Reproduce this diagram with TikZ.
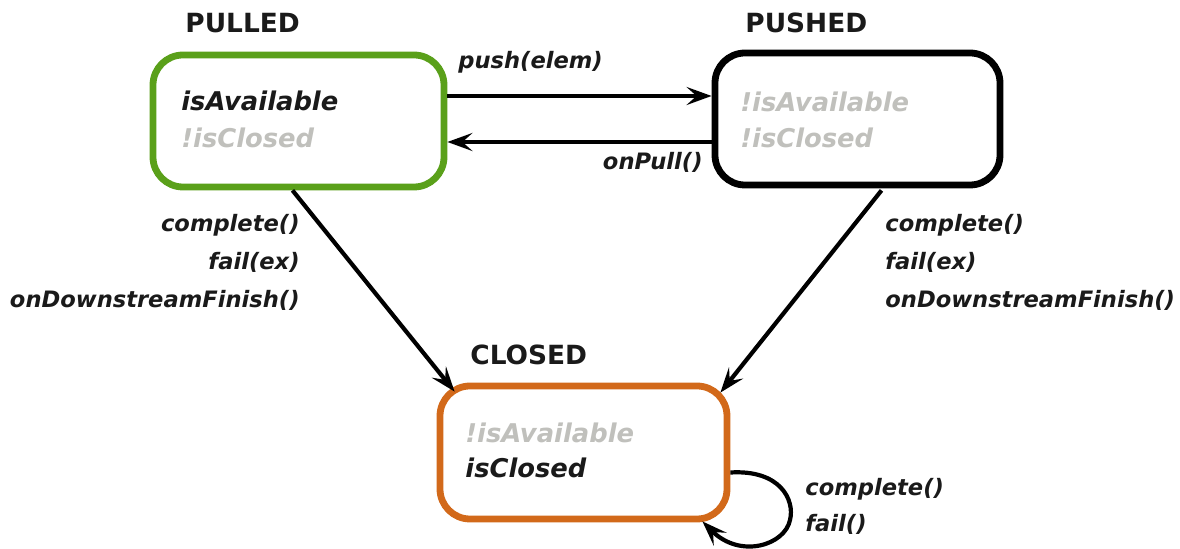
\documentclass[tikz,border=0pt]{standalone}
\usepackage{fontspec}
\setmainfont{DejaVu Sans}
\usetikzlibrary{arrows.meta,calc}
\definecolor{pgreen}{HTML}{5AA01A}
\definecolor{porange}{HTML}{D2691A}
\definecolor{pgray}{HTML}{C0C0BC}
\definecolor{pblack}{HTML}{1A1A1A}
\tikzset{
  statebox/.style={draw, line width=3.4pt, rounded corners=15pt, fill=white, inner sep=0pt},
  boxtxt/.style={anchor=base west, inner sep=0pt, font=\fontsize{12.9}{15}\selectfont\bfseries\itshape},
  ontxt/.style={boxtxt, text=pblack},
  offtxt/.style={boxtxt, text=pgray},
  title/.style={anchor=base west, inner sep=0pt, text=pblack, font=\fontsize{13.2}{15}\selectfont\bfseries},
  lbl/.style={inner sep=0pt, text=pblack, font=\fontsize{11.3}{13}\selectfont\bfseries\itshape},
  arr/.style={line width=2.1pt, -{Stealth[length=12.5pt,width=9pt,inset=5pt]}},
}
\begin{document}
\begin{tikzpicture}[x=0.5pt,y=-0.5pt]
\useasboundingbox (0,0) rectangle (1180,549);
% state boxes
\node[statebox, draw=pgreen, minimum width=145.5pt, minimum height=66pt] (pulled) at (298.5,121) {};
\node[statebox, draw=black, minimum width=142.5pt, minimum height=66pt] (pushed) at (857.5,119) {};
\node[statebox, draw=porange, minimum width=143.5pt, minimum height=66.5pt] (closed) at (583.5,452.5) {};
% titles
\node[title] (tpulled) at (185,33) {PULLED};
\node[title] (tpushed) at (745,33) {PUSHED};
\node[title] (tclosed) at (470,365) {CLOSED};
% box contents
\node[ontxt] (a1) at (181,111) {isAvailable};
\node[offtxt] (a2) at (181,148) {!isClosed};
\node[offtxt] (b1) at (740,112) {!isAvailable};
\node[offtxt] (b2) at (740,148) {!isClosed};
\node[offtxt] (c1) at (465,443) {!isAvailable};
\node[ontxt] (c2) at (465,478) {isClosed};
% connectors
\draw[arr] ($(pulled.east)+(0,-25)$) -- ($(pushed.west)+(0,-23)$);
\draw[arr] ($(pushed.west)+(0,23)$) -- ($(pulled.east)+(0,21)$);
\draw[arr] ($(pulled.south)+(-6,0)$) -- ($(closed.north west)+(18,9)$);
\draw[arr] ($(pushed.south)+(24,2)$) -- ($(closed.north east)+(-10,10)$);
\draw[arr] ($(closed.east)+(0,20)$) .. controls +(50,-3) and +(5,-20) .. (790,520)
  .. controls +(-5,25) and +(38,38) .. ($(closed.south east)+(-28,-1)$);
% labels
\node[lbl, anchor=base west] (lpush) at (458,69) {push(elem)};
\node[lbl, anchor=base east] (lpull) at (703,170) {onPull()};
\node[lbl, anchor=base east] (l1) at (300,232) {complete()};
\node[lbl, anchor=base east] (l2) at (300,270) {fail(ex)};
\node[lbl, anchor=base east] (l3) at (300,308) {onDownstreamFinish()};
\node[lbl, anchor=base west] (r1) at (885,232) {complete()};
\node[lbl, anchor=base west] (r2) at (885,270) {fail(ex)};
\node[lbl, anchor=base west] (r3) at (885,308) {onDownstreamFinish()};
\node[lbl, anchor=base west] (s1) at (805,496) {complete()};
\node[lbl, anchor=base west] (s2) at (805,532) {fail()};
\end{tikzpicture}
\end{document}
